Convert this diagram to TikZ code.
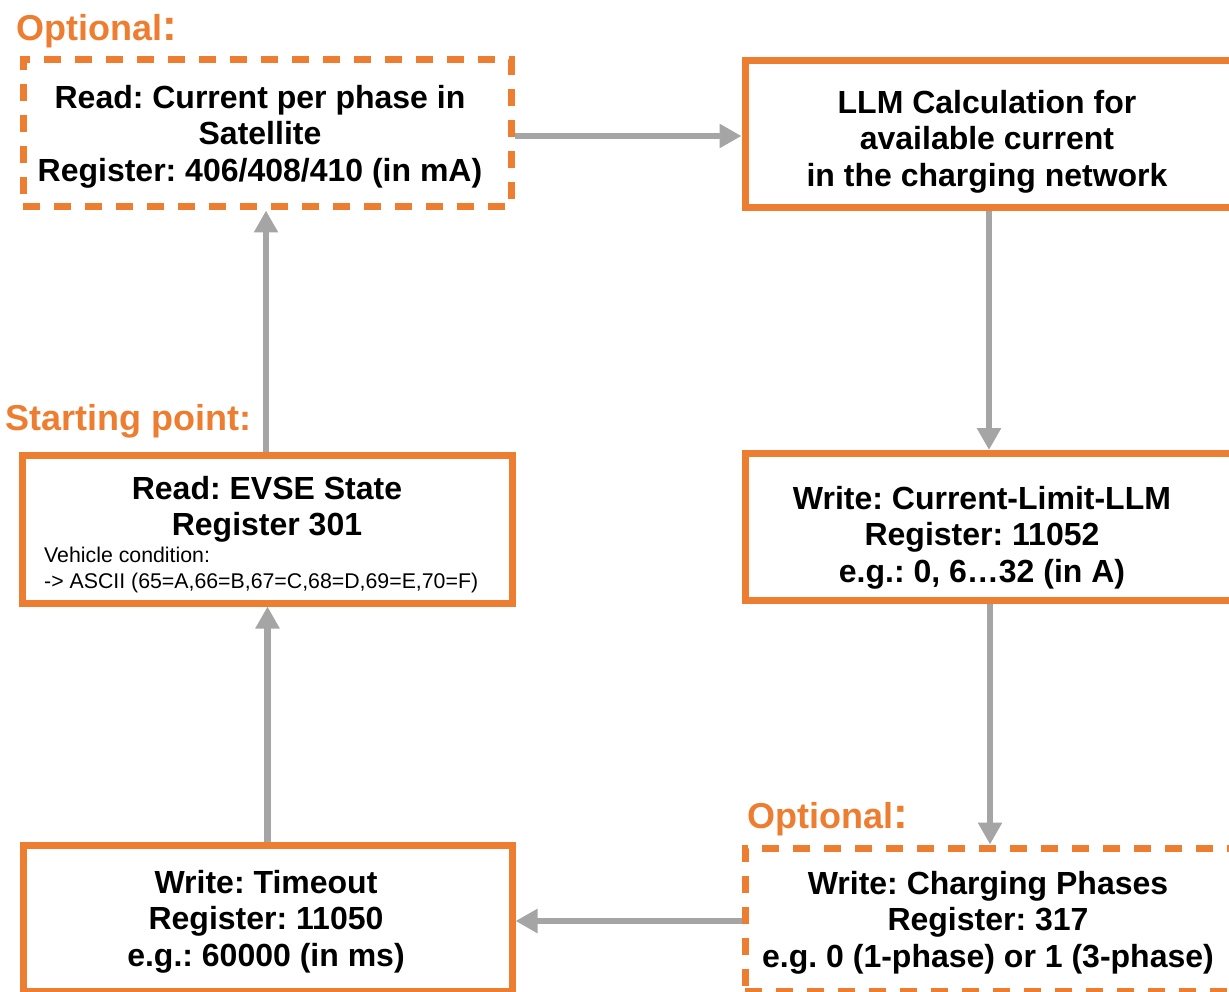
\documentclass[tikz,border=0pt]{standalone}
\usepackage{fontspec}
\setmainfont{Liberation Sans}
\usetikzlibrary{arrows.meta}
\definecolor{orng}{HTML}{ED7D31}
\definecolor{grayarr}{HTML}{A5A5A5}
\frenchspacing
\begin{document}
\begin{tikzpicture}[x=1pt,y=-1pt,
  box/.style={draw=orng, line width=7pt, inner sep=0pt, minimum width=488pt, minimum height=147pt},
  dbox/.style={box, dash pattern=on 17pt off 14pt},
  big/.style={font=\bfseries\fontsize{32}{36.5}\selectfont, align=center, inner sep=0pt},
  small/.style={font=\fontsize{21.3}{26}\selectfont, align=left, inner sep=0pt},
  tag/.style={font=\bfseries\fontsize{36}{40}\selectfont, text=orng, inner sep=0pt, anchor=west},
  arr/.style={draw=grayarr, line width=6.5pt, -{Triangle[length=22pt,width=23pt]}}]
\useasboundingbox (0,0) rectangle (1229,992);
\clip (0,0) rectangle (1229,992);
% boxes
\node[dbox] (a) at (267,133.5) {};
\node[box] (b) at (989,134) {};
\node[box, minimum width=490pt, minimum height=148pt] (c) at (267,529) {};
\node[box] (e) at (989,527) {};
\node[dbox, minimum height=143pt] (f) at (989,919.5) {};
\node[box, minimum width=489pt, minimum height=146pt] (d) at (267.5,918) {};
% texts
\node[big] (ta) at (260,136.5) {Read: Current per phase in\\Satellite\\Register: 406/408/410 (in mA)};
\node[big] (tb) at (987,141.5) {LLM Calculation for\\available current\\in the charging network};
\node[big] (tc) at (267,509.5) {Read: EVSE State\\Register 301};
\node[small, anchor=north west] (tcs) at (44,546.5) {Vehicle condition:\\-> ASCII (65=A,66=B,67=C,68=D,69=E,70=F)};
\node[big] (te) at (982,537.5) {Write: Current-Limit-LLM\\Register: 11052\\e.g.: 0, 6…32 (in A)};
\node[big] (tf) at (988,922.5) {Write: Charging Phases\\Register: 317\\e.g. 0 (1-phase) or 1 (3-phase)};
\node[big] (td) at (266,921.5) {Write: Timeout\\Register: 11050\\e.g.: 60000 (in ms)};
% orange labels
\node[tag] (l1) at (16,31) {Optional{\fontsize{44}{44}\selectfont:}};
\node[tag] (l2) at (5,421) {Starting point:};
\node[tag] (l3) at (747,819) {Optional{\fontsize{44}{44}\selectfont:}};
% arrows
\draw[arr] ([yshift=-2.5pt]a.east) -- ([yshift=-2.5pt]a.east -| b.west);
\draw[arr] (b.south) -- (e.north);
\draw[arr] ([xshift=1pt]e.south) -- ([xshift=1pt]f.north);
\draw[arr] ([yshift=-1.5pt]f.west) -- ([yshift=-1.5pt]f.west -| d.east);
\draw[arr] (d.north) -- (d.north |- c.south);
\draw[arr] ([xshift=-1pt]c.north) -- ([xshift=-1pt]c.north |- a.south);
\end{tikzpicture}
\end{document}
